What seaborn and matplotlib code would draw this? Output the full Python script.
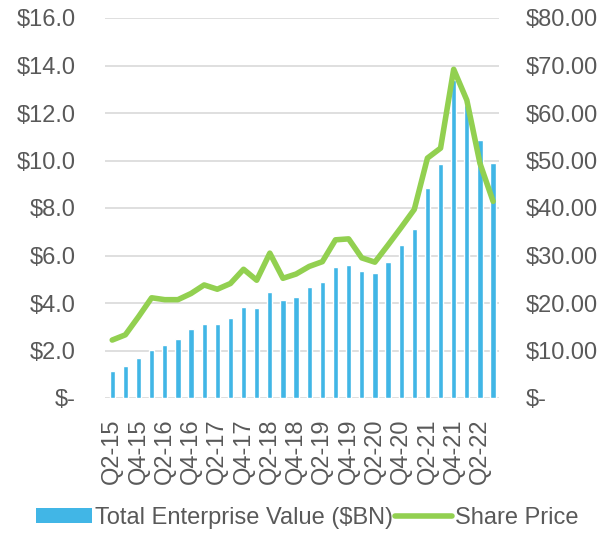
import numpy as np
import pandas as pd
import matplotlib
matplotlib.use('Agg')
import matplotlib.pyplot as plt
import seaborn as sns
from matplotlib.patches import Patch
from matplotlib.lines import Line2D
from matplotlib.ticker import FuncFormatter

# Quarterly data, Q2-15 .. Q3-22
quarters = ['Q2-15', 'Q3-15', 'Q4-15',
            'Q1-16', 'Q2-16', 'Q3-16', 'Q4-16',
            'Q1-17', 'Q2-17', 'Q3-17', 'Q4-17',
            'Q1-18', 'Q2-18', 'Q3-18', 'Q4-18',
            'Q1-19', 'Q2-19', 'Q3-19', 'Q4-19',
            'Q1-20', 'Q2-20', 'Q3-20', 'Q4-20',
            'Q1-21', 'Q2-21', 'Q3-21', 'Q4-21',
            'Q1-22', 'Q2-22', 'Q3-22']
tev = [1.12, 1.33, 1.68, 2.03, 2.24, 2.48, 2.90, 3.12, 3.12, 3.35, 3.85,
       3.78, 4.45, 4.12, 4.24, 4.66, 4.90, 5.53, 5.59, 5.35, 5.25, 5.72,
       6.44, 7.12, 8.84, 9.85, 13.40, 12.34, 10.86, 9.88]
share_price = [12.2, 13.3, 17.1, 21.1, 20.7, 20.7, 22.0, 23.8, 22.9, 24.1,
               27.1, 24.8, 30.5, 25.2, 26.1, 27.7, 28.7, 33.3, 33.5, 29.5,
               28.6, 32.2, 35.9, 39.7, 50.5, 52.6, 69.2, 62.7, 49.4, 41.4]

df = pd.DataFrame({'quarter': quarters, 'tev': tev, 'price': share_price})
df['pos'] = np.arange(len(df))

bar_color = '#41B6E6'
line_color = '#92D050'
text_color = '#595959'
grid_color = '#D9D9D9'

sns.set_style('white')
plt.rcParams['font.family'] = ['Liberation Sans', 'DejaVu Sans']

fig = plt.figure(figsize=(6.14, 5.33), dpi=100)
ax = fig.add_axes([105 / 614, 1 - 398 / 533, 394 / 614, 380 / 533])

sns.barplot(data=df, x='quarter', y='tev', color=bar_color, width=0.4,
            saturation=1, ax=ax, zorder=3)
ax.set_ylim(0, 16)
ax.set_yticks(np.arange(0, 17, 2))
ax.yaxis.set_major_formatter(FuncFormatter(lambda v, p: '$-' if v == 0 else f'${v:.1f}'))
ax.grid(axis='y', color=grid_color, linewidth=1.2, zorder=0)
ax.set_axisbelow(True)
for s in ax.spines.values():
    s.set_visible(False)
ax.set_xlabel('')
ax.set_ylabel('')
ax.set_xticks(df['pos'][::2])
ax.set_xticklabels(df['quarter'][::2], rotation=90)
ax.tick_params(axis='both', length=0, labelsize=17, colors=text_color)
ax.tick_params(axis='y', pad=21)
ax.tick_params(axis='x', pad=15)

ax2 = ax.twinx()
sns.lineplot(data=df, x='pos', y='price', color=line_color, linewidth=4,
             ax=ax2, legend=False)
ax2.set_ylim(0, 80)
ax2.set_yticks(np.arange(0, 81, 10))
ax2.yaxis.set_major_formatter(FuncFormatter(lambda v, p: '$-' if v == 0 else f'${v:.2f}'))
for s in ax2.spines.values():
    s.set_visible(False)
ax2.set_ylabel('')
ax2.tick_params(axis='y', length=0, labelsize=17, colors=text_color, pad=19)
ax.set_xlim(-0.55, 29.45)
ax2.set_xlim(-0.55, 29.45)

handles = [Patch(facecolor=bar_color, edgecolor='none'),
           Line2D([0], [0], color=line_color, linewidth=4)]
labels = ['Total Enterprise Value ($BN)', 'Share Price']
leg = fig.legend(handles, labels, loc='center', ncol=2, frameon=False,
                 bbox_to_anchor=(0.50, 0.028), fontsize=17, handlelength=2.4,
                 handleheight=0.6, handletextpad=0.12, columnspacing=0.1)
for t in leg.get_texts():
    t.set_color(text_color)

fig.savefig('out.png', dpi=100)
